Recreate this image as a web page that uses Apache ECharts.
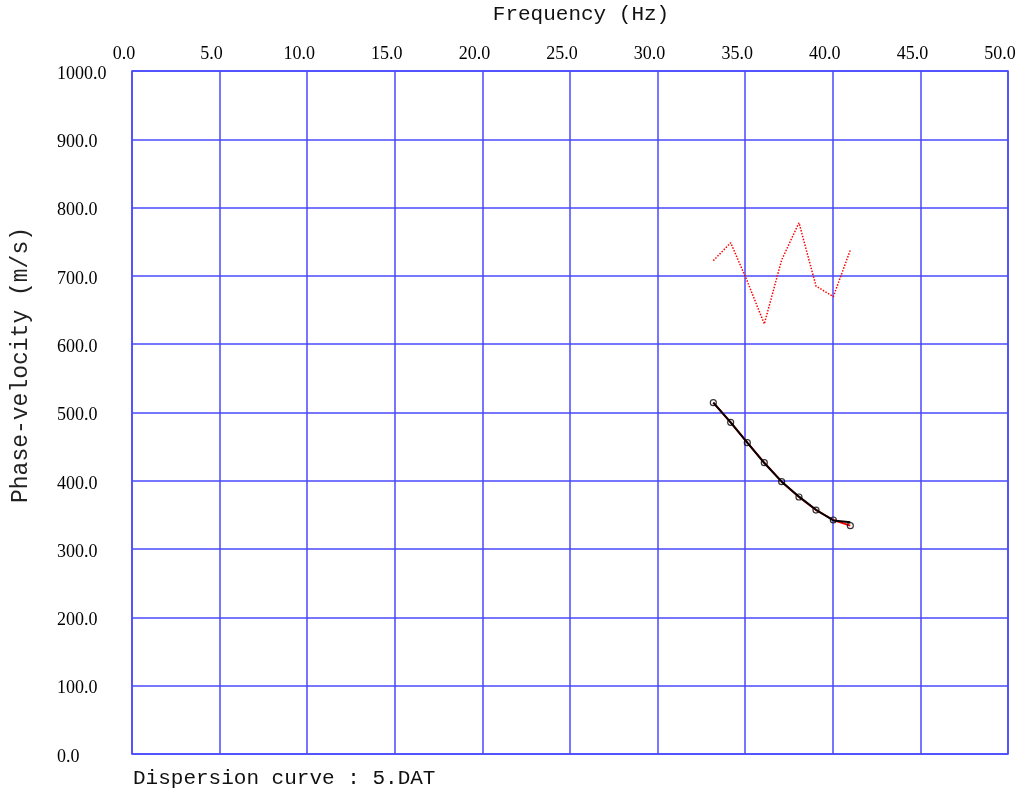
<!DOCTYPE html>
<html>
<head>
<meta charset="utf-8">
<script src="https://cdn.jsdelivr.net/npm/echarts@6/dist/echarts.min.js"></script>
<style>html,body{margin:0;padding:0;background:#fff}#c{width:1024px;height:792px}</style>
</head>
<body>
<div id="c"></div>
<script>
// Data
var freq = [33.18, 34.17, 35.12, 36.09, 37.08, 38.07, 39.04, 40.03, 41.00];
var observedVel = [514.4, 485.6, 455.8, 426.5, 398.7, 376.3, 357.2, 342.6, 334.3];
var fittedVel = [514.4, 485.6, 455.8, 426.0, 398.7, 376.8, 357.6, 342.0, 339.2];
var upperVel = [722.3, 748.6, 692.0, 629.6, 723.3, 777.9, 685.2, 669.6, 737.9];
var xTitle = 'Frequency (Hz)';
var yTitle = 'Phase-velocity (m/s)';
var footer = 'Dispersion curve : 5.DAT';

function pairs(xs, ys) { return xs.map(function (x, i) { return [x, ys[i]]; }); }

var chart = echarts.init(document.getElementById('c'), null, {renderer: 'canvas'});
var blue = '#4848ff';
chart.setOption({
  animation: false,
  backgroundColor: '#fff',
  grid: {left: 132, top: 71, right: 16, bottom: 38, show: true, borderColor: blue, borderWidth: 1.5, backgroundColor: 'transparent'},
  xAxis: {
    type: 'value', position: 'top', min: 0, max: 50, interval: 5,
    axisLine: {show: false}, axisTick: {show: false},
    splitLine: {show: true, showMinLine: true, showMaxLine: true, lineStyle: {color: blue, width: 1.5}},
    axisLabel: {color: '#000', fontFamily: 'Liberation Serif', fontSize: 18, margin: 8,
      padding: [0, 16, 0, 0],
      formatter: function (v) { return v.toFixed(1); }}
  },
  yAxis: {
    type: 'value', min: 0, max: 1000, interval: 100,
    axisLine: {show: false}, axisTick: {show: false},
    splitLine: {show: true, showMinLine: true, showMaxLine: true, lineStyle: {color: blue, width: 1.5}},
    axisLabel: {color: '#000', fontFamily: 'Liberation Serif', fontSize: 18, margin: 75, align: 'left',
      verticalAlign: 'top', lineHeight: 6,
      formatter: function (v) { return v.toFixed(1); }}
  },
  graphic: [
    {type: 'text', x: 581, y: 14, style: {text: xTitle, font: '21px "Liberation Mono"', fill: '#111', align: 'center', verticalAlign: 'middle'}},
    {type: 'text', x: 21, y: 365, rotation: Math.PI / 2, style: {text: yTitle, font: '23px "Liberation Mono"', fill: '#222', align: 'center', verticalAlign: 'middle'}},
    {type: 'text', x: 133, y: 778, style: {text: footer, font: '21px "Liberation Mono"', fill: '#111', verticalAlign: 'middle'}}
  ],
  series: [
    {type: 'line', data: pairs(freq, upperVel), showSymbol: false, lineStyle: {color: '#ff0000', width: 1.5, type: 'dotted'}, z: 3},
    {type: 'line', data: pairs(freq, observedVel), showSymbol: false, lineStyle: {color: '#ff0000', width: 2}, z: 3},
    {type: 'line', data: pairs(freq, fittedVel), showSymbol: false, lineStyle: {color: '#000', width: 2}, z: 4},
    {type: 'scatter', data: pairs(freq, observedVel), symbol: 'circle', symbolSize: 6,
      itemStyle: {color: 'rgba(255,255,255,0)', borderColor: '#000', borderWidth: 1.2}, z: 5}
  ]
});
</script>
</body>
</html>
